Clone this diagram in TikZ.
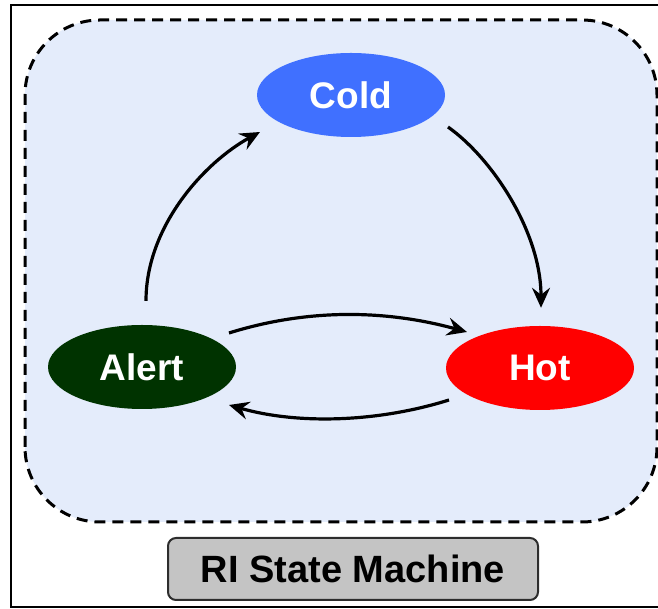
\documentclass[tikz,border=0pt]{standalone}
\usepackage{fontspec}
\setmainfont{Liberation Sans}
\usetikzlibrary{arrows.meta,shapes.geometric}

\definecolor{coldblue}{RGB}{64,112,255}
\definecolor{alertgreen}{RGB}{0,51,0}
\definecolor{hotred}{RGB}{255,0,0}
\definecolor{panelfill}{RGB}{228,236,251}
\definecolor{titlefill}{RGB}{196,196,196}
\definecolor{titleline}{RGB}{45,45,45}

\tikzset{
  state/.style={ellipse, minimum width=188pt, minimum height=84pt, inner sep=0pt,
    text=white, font=\fontsize{37}{41}\selectfont\bfseries},
  trans/.style={line width=3.2pt, -{Stealth[length=20pt,width=18pt,inset=7pt]}},
  panel/.style={draw=black, fill=panelfill, line width=3pt, dash pattern=on 11pt off 7pt,
    rounded corners=75pt},
  titlebox/.style={draw=titleline, fill=titlefill, line width=2pt, rounded corners=8pt,
    minimum width=370pt, minimum height=62pt, font=\fontsize{38}{42}\selectfont\bfseries}
}

\begin{document}
\begin{tikzpicture}[x=1pt,y=1pt]
  \useasboundingbox (0,0) rectangle (658,609);
  \clip (0,0) rectangle (658,609);

  % outer frame
  \draw[line width=1.5pt] (11,2) rectangle (680,604);

  % dashed panel
  \draw[panel] (25,87) rectangle (657,589);

  % states
  \node[state, fill=coldblue]   (cold)  at (351,514) {Cold};
  \node[state, fill=alertgreen] (alert) at (142,242) {Alert};
  \node[state, fill=hotred]     (hot)   at (540,241) {Hot};

  % transitions
  \draw[trans] ([shift={(4pt,24pt)}]alert.north)
    .. controls +(0,75) and +(-55,-30) .. ([shift={(-91pt,-37pt)}]cold.center);
  \draw[trans] ([shift={(97pt,-32pt)}]cold.center)
    .. controls +(45,-32) and +(0,75) .. ([shift={(1pt,18pt)}]hot.north);
  \draw[trans] ([shift={(87pt,34pt)}]alert.center)
    .. controls +(80,25) and +(-80,22) .. ([shift={(-73pt,36pt)}]hot.center);
  \draw[trans] ([shift={(-91pt,-32pt)}]hot.center)
    .. controls +(-70,-22) and +(70,-20) .. ([shift={(87pt,-38pt)}]alert.center);

  % title
  \node[titlebox] (title) at (353,40) {RI State Machine};
\end{tikzpicture}
\end{document}
